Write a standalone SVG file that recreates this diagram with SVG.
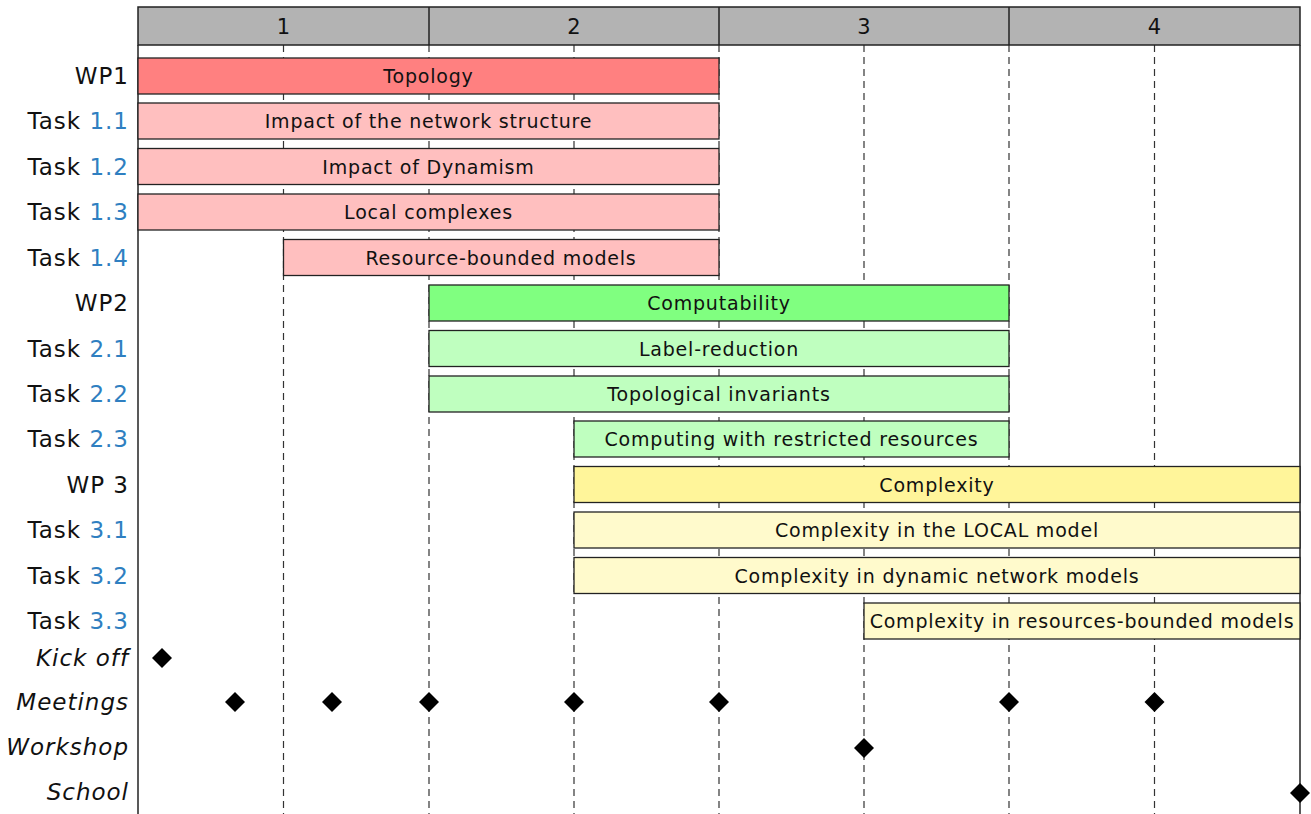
<svg xmlns="http://www.w3.org/2000/svg" width="1311" height="814" viewBox="0 0 1311 814">
<style>
.grid{stroke:#333;stroke-width:1.2;stroke-dasharray:7 5;fill:none}
.frame{stroke:#222;stroke-width:1.5;fill:none}
.bar{stroke:#222;stroke-width:1.3}
.wp1{fill:#ff8080}.t1{fill:#ffbfbf}
.wp2{fill:#80ff80}.t2{fill:#bfffbf}
.wp3{fill:#fff59a}.t3{fill:#fffacc}
.bt{font-family:"DejaVu Sans",sans-serif;font-size:19px;letter-spacing:0.8px;fill:#111;text-anchor:middle;dominant-baseline:central}
.lbl{font-family:"DejaVu Sans",sans-serif;font-size:23px;letter-spacing:1px;fill:#111;text-anchor:end;dominant-baseline:central}
.num{fill:#2f7fc1}
.it{font-style:italic}
.hd{font-family:"DejaVu Sans",sans-serif;font-size:21px;fill:#111;text-anchor:middle;dominant-baseline:central}
.dia{fill:#000}
</style>
<defs>
<polygon id="dm" points="0,-10 10,0 0,10 -10,0"/>
</defs>
<g id="grid">
<line class="grid" x1="283.5" y1="45" x2="283.5" y2="814"/>
<line class="grid" x1="429" y1="45" x2="429" y2="814"/>
<line class="grid" x1="574" y1="45" x2="574" y2="814"/>
<line class="grid" x1="719" y1="45" x2="719" y2="814"/>
<line class="grid" x1="864" y1="45" x2="864" y2="814"/>
<line class="grid" x1="1009" y1="45" x2="1009" y2="814"/>
<line class="grid" x1="1154.5" y1="45" x2="1154.5" y2="814"/>
</g>
<g id="header">
<rect x="138" y="7" width="1162" height="38" fill="#b3b3b3" stroke="#222" stroke-width="1.5"/>
<line class="frame" x1="429" y1="7" x2="429" y2="45"/>
<line class="frame" x1="719" y1="7" x2="719" y2="45"/>
<line class="frame" x1="1009" y1="7" x2="1009" y2="45"/>
<text class="hd" x="283.5" y="27">1</text>
<text class="hd" x="574" y="27">2</text>
<text class="hd" x="864" y="27">3</text>
<text class="hd" x="1154.5" y="27">4</text>
<line class="frame" x1="138" y1="45" x2="138" y2="814"/>
<line class="frame" x1="1300" y1="45" x2="1300" y2="814"/>
</g>
<g id="wp1">
<rect class="bar wp1" x="138" y="58" width="581" height="36"/>
<text class="bt" x="428.5" y="76">Topology</text>
<text class="lbl" x="129" y="76">WP1</text>
</g>
<g id="task11">
<rect class="bar t1" x="138" y="103" width="581" height="36"/>
<text class="bt" x="428.5" y="121">Impact of the network structure</text>
<text class="lbl" x="129" y="121">Task <tspan class="num">1.1</tspan></text>
</g>
<g id="task12">
<rect class="bar t1" x="138" y="148.5" width="581" height="36"/>
<text class="bt" x="428.5" y="166.5">Impact of Dynamism</text>
<text class="lbl" x="129" y="166.5">Task <tspan class="num">1.2</tspan></text>
</g>
<g id="task13">
<rect class="bar t1" x="138" y="194" width="581" height="36"/>
<text class="bt" x="428.5" y="212">Local complexes</text>
<text class="lbl" x="129" y="212">Task <tspan class="num">1.3</tspan></text>
</g>
<g id="task14">
<rect class="bar t1" x="283.5" y="239.5" width="435.5" height="36"/>
<text class="bt" x="501" y="257.5">Resource-bounded models</text>
<text class="lbl" x="129" y="257.5">Task <tspan class="num">1.4</tspan></text>
</g>
<g id="wp2">
<rect class="bar wp2" x="429" y="285" width="580" height="36"/>
<text class="bt" x="719" y="303">Computability</text>
<text class="lbl" x="129" y="303">WP2</text>
</g>
<g id="task21">
<rect class="bar t2" x="429" y="330.5" width="580" height="36"/>
<text class="bt" x="719" y="348.5">Label-reduction</text>
<text class="lbl" x="129" y="348.5">Task <tspan class="num">2.1</tspan></text>
</g>
<g id="task22">
<rect class="bar t2" x="429" y="376" width="580" height="36"/>
<text class="bt" x="719" y="394">Topological invariants</text>
<text class="lbl" x="129" y="394">Task <tspan class="num">2.2</tspan></text>
</g>
<g id="task23">
<rect class="bar t2" x="574" y="421" width="435" height="36"/>
<text class="bt" x="791.5" y="439">Computing with restricted resources</text>
<text class="lbl" x="129" y="439">Task <tspan class="num">2.3</tspan></text>
</g>
<g id="wp3">
<rect class="bar wp3" x="574" y="466.5" width="726" height="36"/>
<text class="bt" x="937" y="484.5">Complexity</text>
<text class="lbl" x="129" y="484.5">WP 3</text>
</g>
<g id="task31">
<rect class="bar t3" x="574" y="512" width="726" height="36"/>
<text class="bt" x="937" y="530">Complexity in the LOCAL model</text>
<text class="lbl" x="129" y="530">Task <tspan class="num">3.1</tspan></text>
</g>
<g id="task32">
<rect class="bar t3" x="574" y="557.5" width="726" height="36"/>
<text class="bt" x="937" y="575.5">Complexity in dynamic network models</text>
<text class="lbl" x="129" y="575.5">Task <tspan class="num">3.2</tspan></text>
</g>
<g id="task33">
<rect class="bar t3" x="864" y="603" width="436" height="36"/>
<text class="bt" x="1082" y="621">Complexity in resources-bounded models</text>
<text class="lbl" x="129" y="621">Task <tspan class="num">3.3</tspan></text>
</g>
<g id="kickoff">
<text class="lbl it" x="129" y="658">Kick off</text>
<use href="#dm" class="dia" x="162" y="658"/>
</g>
<g id="meetings">
<text class="lbl it" x="129" y="702">Meetings</text>
<use href="#dm" class="dia" x="235" y="702"/>
<use href="#dm" class="dia" x="332" y="702"/>
<use href="#dm" class="dia" x="429" y="702"/>
<use href="#dm" class="dia" x="574" y="702"/>
<use href="#dm" class="dia" x="719" y="702"/>
<use href="#dm" class="dia" x="1009" y="702"/>
<use href="#dm" class="dia" x="1154.5" y="702"/>
</g>
<g id="workshop">
<text class="lbl it" x="129" y="747">Workshop</text>
<use href="#dm" class="dia" x="864" y="748"/>
</g>
<g id="school">
<text class="lbl it" x="129" y="792">School</text>
<use href="#dm" class="dia" x="1300" y="793"/>
</g>
</svg>
